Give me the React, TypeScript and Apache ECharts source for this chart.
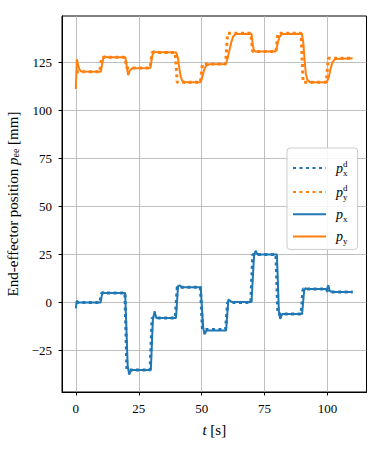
import React, { useEffect, useRef } from 'react';
import * as echarts from 'echarts';

const xTicks = [0, 25, 50, 75, 100];
const yTicks = [-25, 0, 25, 50, 75, 100, 125];

// desired trajectory (steps)
const desiredT = [0, 9.5, 10.3, 19.5, 20.3, 29.5, 30.3, 39.5, 40.3, 49.5, 50.3, 59.5, 60.3, 69.5, 70.3, 79.5, 80.3, 89.5, 90.3, 99.5, 100.3, 110];
const desiredX = [0, 0, 5, 5, -35, -35, -8, -8, 8, 8, -14, -14, 0, 0, 25, 25, -6, -6, 7, 7, 5.5, 5.5];
const desiredY = [120, 120, 127.5, 127.5, 122, 122, 130, 130, 114.5, 114.5, 124, 124, 140, 140, 130.5, 130.5, 140, 140, 114.5, 114.5, 127, 127];

// measured x position
const actualXT = [0, 0.4, 1, 9.8, 10.6, 11.2, 19.6, 20.6, 21.2, 22, 29.8, 30.6, 31.3, 32, 39.8, 40.6, 41.2, 42, 49.6, 50.6, 51.1, 52, 59.7, 60.6, 61.2, 62, 69.8, 70.8, 71.4, 72.2, 79.9, 80.7, 81.2, 82, 89.9, 90.7, 91.2, 92, 99.8, 100.3, 100.9, 102, 110];
const actualXV = [-3, 1, 0, 0, 5.5, 5, 5, -33, -37.5, -35, -35, -9, -4.5, -8, -8, 8.5, 9, 8, 8, -13, -16.5, -14.5, -14.5, 1.5, 1, 0.3, 0.3, 24, 27, 25, 25, -5, -8.5, -6, -6, 6, 7.5, 7, 7, 9, 6, 5.5, 5.5];

// measured y position
const actualYT = [0, 0.4, 0.9, 1.5, 2.2, 9.9, 10.4, 10.9, 11.5, 12.2, 19.7, 20.3, 20.8, 21.4, 22.3, 29.6, 30.2, 30.8, 31.5, 39.9, 40.6, 41.1, 41.6, 42.2, 43, 49.6, 50.3, 51, 51.8, 53, 59.6, 60.3, 61, 61.7, 62.5, 63.5, 69.8, 70.3, 70.8, 71.5, 79.4, 79.8, 80.3, 81, 82, 89.8, 90.4, 90.9, 91.4, 92, 93, 99.7, 100.5, 101.2, 102, 103, 110];
const actualYV = [111, 126.5, 123.5, 121, 120.2, 120, 123.5, 127, 128, 127.6, 127.5, 122, 118.3, 120.5, 121.8, 122, 127, 130.8, 130.3, 130, 127, 122, 118, 115.5, 114.6, 114.6, 117.5, 121, 123.2, 123.9, 124, 127, 131, 135, 138.3, 139.6, 139.8, 134, 131, 130.5, 130.5, 132.5, 135.5, 138.3, 139.7, 139.8, 135, 126, 119, 115.8, 114.6, 114.6, 117, 121.5, 125, 126.6, 127];

const seriesNames = ['pxd', 'pyd', 'px', 'py'];
const legendLabels: Record<string, string> = {
  pxd: '{p|p}{sup|d}{sub|x}',
  pyd: '{p|p}{sup|d}{sub|y}',
  px: '{p|p}{sub|x}',
  py: '{p|p}{sub|y}',
};

const BLUE = '#1f77b4';
const ORANGE = '#ff7f0e';
const FONT = "'Liberation Serif', 'DejaVu Serif', serif";

const zip = (t: number[], v: number[]) => t.map((ti, i) => [ti, v[i]]);
const fmtNum = (v: number) => String(v).replace('-', '\u2212');

export default function App() {
  const ref = useRef<HTMLDivElement>(null);
  useEffect(() => {
    if (!ref.current) return;
    const chart = echarts.init(ref.current, null, { renderer: 'svg' });
    const axisCommon = {
      axisLine: { show: true, onZero: false, lineStyle: { color: '#000', width: 1 } },
      axisTick: { show: true, length: 3.5, lineStyle: { color: '#000', width: 1 } },
      splitLine: { show: true, lineStyle: { color: '#b0b0b0', width: 0.8 } },
    };
    const richMath = {
      t: { fontFamily: FONT, fontSize: 15, color: '#000' },
      i: { fontFamily: FONT, fontSize: 15, fontStyle: 'italic', color: '#000' },
      p: { fontFamily: FONT, fontSize: 15, fontStyle: 'italic', color: '#000' },
      sub: { fontFamily: FONT, fontSize: 10, color: '#000', verticalAlign: 'bottom', lineHeight: 9 },
    };
    chart.setOption({
      animation: false,
      textStyle: { fontFamily: FONT },
      grid: {
        left: 62, right: 16.5, top: 16, bottom: 64,
        outerBoundsMode: 'none',
        containLabel: false,
        show: true, borderColor: '#000', borderWidth: 1, backgroundColor: 'transparent',
      },
      xAxis: {
        type: 'value',
        min: -5.5, max: 115.5,
        minInterval: 25, maxInterval: 25,
        ...axisCommon,
        axisTick: { ...axisCommon.axisTick, customValues: xTicks },
        axisLabel: {
          customValues: xTicks,
          fontFamily: FONT, fontSize: 13, color: '#000', margin: 10,
          formatter: (v: number) => fmtNum(v),
        },
        name: '{i|t}{t| [s]}',
        nameLocation: 'middle',
        nameGap: 30,
        nameTextStyle: { fontFamily: FONT, rich: richMath },
      },
      yAxis: {
        type: 'value',
        min: -46.5, max: 149,
        minInterval: 25, maxInterval: 25,
        ...axisCommon,
        axisTick: { ...axisCommon.axisTick, customValues: yTicks },
        axisLabel: {
          customValues: yTicks,
          fontFamily: FONT, fontSize: 13, color: '#000', margin: 10,
          formatter: (v: number) => fmtNum(v),
        },
        name: '{t|End-effector position }{p|p}{sub|ee}{t| [mm]}',
        nameLocation: 'middle',
        nameGap: 42,
        nameTextStyle: { fontFamily: FONT, rich: richMath },
      },
      legend: {
        orient: 'vertical',
        left: 287,
        top: 148,
        data: seriesNames,
        itemWidth: 33,
        itemHeight: 18,
        itemGap: 6,
        padding: [11, 10, 4, 5],
        backgroundColor: 'rgba(255,255,255,0.85)',
        borderColor: '#cccccc',
        borderWidth: 1,
        borderRadius: 3,
        itemStyle: { opacity: 0 },
        formatter: (name: string) => legendLabels[name],
        textStyle: {
          fontFamily: FONT,
          rich: {
            p: { fontFamily: FONT, fontSize: 14, fontStyle: 'italic', color: '#000', lineHeight: 18, padding: [0, 0, 0, 5] },
            sup: { fontFamily: FONT, fontSize: 9, color: '#000', verticalAlign: 'top', lineHeight: 2, width: 0.1 },
            sub: { fontFamily: FONT, fontSize: 9, color: '#000', verticalAlign: 'bottom', lineHeight: 7 },
          },
        },
      },
      series: [
        {
          name: 'pxd', type: 'line', data: zip(desiredT, desiredX),
          symbol: 'none', showSymbol: false,
          lineStyle: { color: BLUE, width: 3, type: [3, 3.5], cap: 'butt' },
          itemStyle: { color: BLUE },
        },
        {
          name: 'pyd', type: 'line', data: zip(desiredT, desiredY),
          symbol: 'none', showSymbol: false,
          lineStyle: { color: ORANGE, width: 3, type: [3, 3.5], cap: 'butt' },
          itemStyle: { color: ORANGE },
        },
        {
          name: 'px', type: 'line', data: zip(actualXT, actualXV),
          symbol: 'none', showSymbol: false,
          lineStyle: { color: BLUE, width: 2 },
          itemStyle: { color: BLUE },
        },
        {
          name: 'py', type: 'line', data: zip(actualYT, actualYV),
          symbol: 'none', showSymbol: false,
          lineStyle: { color: ORANGE, width: 2 },
          itemStyle: { color: ORANGE },
        },
      ],
    });
    return () => chart.dispose();
  }, []);
  return <div ref={ref} style={{ width: 383, height: 456, position: 'absolute', left: 0, top: 0 }} />;
}
